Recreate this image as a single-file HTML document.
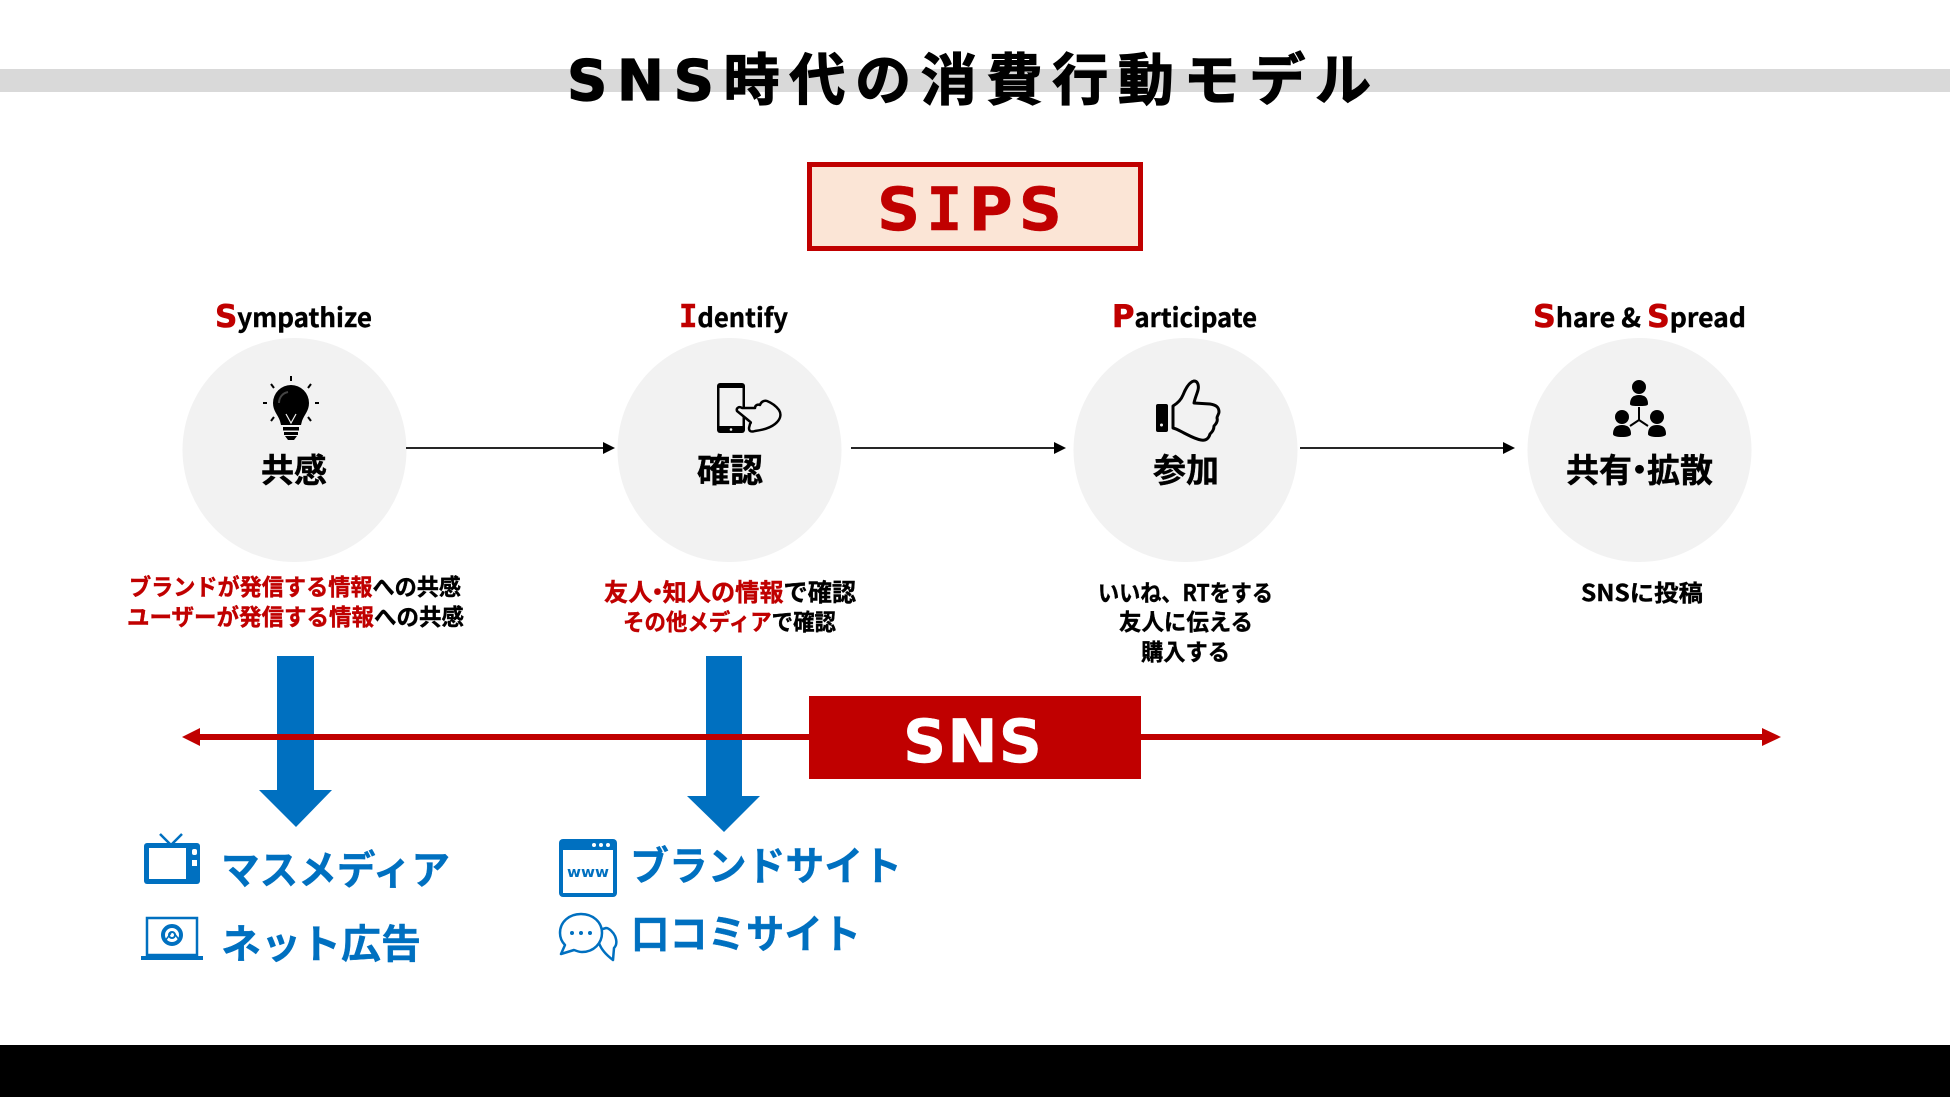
<!DOCTYPE html>
<html lang="ja"><head><meta charset="utf-8"><title>SNS時代の消費行動モデル</title>
<style>
html,body{margin:0;padding:0;background:#fff;width:1950px;height:1097px;overflow:hidden}
svg{display:block}
text{font-family:"Liberation Sans","Noto Sans CJK JP",sans-serif;font-weight:700;fill:#000;stroke:#000;stroke-width:.4px}
.cjk{font-family:"Noto Sans CJK JP",sans-serif;font-weight:700}
.dj{font-family:"DejaVu Sans","Noto Sans CJK JP",sans-serif;font-weight:700}
.r{fill:#c00000}
.b{fill:#0070c0}
text.r,text .r{fill:#c00000;stroke:#c00000}
text.b{fill:#0070c0;stroke:#0070c0}
text.w{fill:#fff;stroke:#fff}
.cap{font-family:"DejaVu Sans",sans-serif;font-size:31px;stroke-width:.6px}
.capi{font-family:"DejaVu Sans Mono",monospace;font-size:31px;stroke-width:.6px}
</style></head><body>
<svg width="1950" height="1097" viewBox="0 0 1950 1097" xmlns="http://www.w3.org/2000/svg">
<rect width="1950" height="1097" fill="#fff"/>
<rect x="0" y="69" width="1950" height="23" fill="#d9d9d9"/>
<text class="dj" x="567" y="100" font-size="56" textLength="804" lengthAdjust="spacing" style="stroke-width:1.200px">SNS時代の消費行動モデル</text>

<rect x="809.500" y="164.500" width="331" height="84" fill="#fbe5d6" stroke="#c00000" stroke-width="5"/>
<text class="dj r" x="877" y="230" font-size="60" textLength="185" lengthAdjust="spacing">S<tspan font-family="DejaVu Sans Mono">I</tspan>PS</text>

<g fill="#f2f2f2">
<circle cx="294.500" cy="450" r="112"/><circle cx="729.500" cy="450" r="112"/><circle cx="1185.500" cy="450" r="112"/><circle cx="1639.500" cy="450" r="112"/>
</g>

<!-- heading labels -->
<text class="cjk" x="215" y="327" font-size="26" textLength="157" lengthAdjust="spacingAndGlyphs"><tspan class="r cap">S</tspan>ympathize</text>
<text class="cjk" x="679" y="327" font-size="26" textLength="109" lengthAdjust="spacingAndGlyphs"><tspan class="r capi">I</tspan>dentify</text>
<text class="cjk" x="1112" y="327" font-size="26" textLength="145" lengthAdjust="spacingAndGlyphs"><tspan class="r cap">P</tspan>articipate</text>
<text class="cjk" x="1533" y="327" font-size="26" textLength="213" lengthAdjust="spacingAndGlyphs"><tspan class="r cap">S</tspan>hare &amp; <tspan class="r cap">S</tspan>pread</text>

<!-- circle titles -->
<text class="cjk" x="261" y="482" font-size="33" textLength="66" lengthAdjust="spacingAndGlyphs">共感</text>
<text class="cjk" x="697" y="482" font-size="33" textLength="66" lengthAdjust="spacingAndGlyphs">確認</text>
<text class="cjk" x="1153" y="482" font-size="33" textLength="66" lengthAdjust="spacingAndGlyphs">参加</text>
<text class="cjk" x="1566" y="482" font-size="33">共有<tspan dx="-9">・</tspan><tspan dx="-9">拡散</tspan></text>

<!-- descriptions -->
<text class="cjk" x="129" y="595" font-size="23" textLength="332" lengthAdjust="spacingAndGlyphs"><tspan class="r">ブランドが発信する情報</tspan>への共感</text>
<text class="cjk" x="127" y="625" font-size="23" textLength="337" lengthAdjust="spacingAndGlyphs"><tspan class="r">ユーザーが発信する情報</tspan>への共感</text>
<text class="cjk" x="604" y="601" font-size="24.200"><tspan class="r">友人<tspan dx="-7">・</tspan><tspan dx="-7">知人の情報</tspan></tspan>で確認</text>
<text class="cjk" x="623" y="630" font-size="23" textLength="213" lengthAdjust="spacingAndGlyphs"><tspan class="r">その他メディア</tspan>で確認</text>
<text class="cjk" x="1098" y="601" font-size="23" textLength="175" lengthAdjust="spacingAndGlyphs">いいね、RTをする</text>
<text class="cjk" x="1119" y="630" font-size="23" textLength="134" lengthAdjust="spacingAndGlyphs">友人に伝える</text>
<text class="cjk" x="1141" y="660" font-size="23" textLength="89" lengthAdjust="spacingAndGlyphs">購入する</text>
<text class="cjk" x="1581" y="601" font-size="23" textLength="122" lengthAdjust="spacingAndGlyphs">SNSに投稿</text>

<!-- connectors -->
<g stroke="#262626" stroke-width="2" fill="none">
<line x1="406" y1="448" x2="606" y2="448"/><line x1="851" y1="448" x2="1057" y2="448"/><line x1="1300" y1="448" x2="1506" y2="448"/>
</g>
<g fill="#000">
<polygon points="603,442 615,448 603,454"/><polygon points="1054,442 1066,448 1054,454"/><polygon points="1503,442 1515,448 1503,454"/>
</g>

<!-- blue arrows -->
<polygon class="b" points="277,656 314,656 314,790 332,790 296,827 259,790 277,790"/>
<polygon class="b" points="706,656 742,656 742,796 760,796 724,832 687,796 706,796"/>

<!-- red line -->
<rect x="198" y="734" width="612" height="6" class="r"/>
<rect x="1140" y="734" width="624" height="6" class="r"/>
<polygon class="r" points="182,737 200,728 200,746"/>
<polygon class="r" points="1781,737 1762,728 1762,746"/>
<rect x="809" y="696" width="332" height="83" class="r"/>
<text class="dj w" x="903" y="762" font-size="60" textLength="139" lengthAdjust="spacing">SNS</text>

<!-- blue labels -->
<text class="cjk b" x="221" y="884" font-size="40" textLength="229" lengthAdjust="spacingAndGlyphs">マスメディア</text>
<text class="cjk b" x="221" y="958" font-size="40" textLength="200" lengthAdjust="spacingAndGlyphs">ネット広告</text>
<text class="cjk b" x="630" y="880" font-size="40" textLength="272" lengthAdjust="spacingAndGlyphs">ブランドサイト</text>
<text class="cjk b" x="631" y="948" font-size="40" textLength="230" lengthAdjust="spacingAndGlyphs">口コミサイト</text>

<!-- bulb icon -->
<g>
<path d="M273,403a18,18 0 1 1 36,0c0,8 -5,12 -7,18l-1,4h-20l-1,-4c-2,-6 -7,-10 -7,-18z" fill="#000"/>
<rect x="283" y="427" width="16" height="3.500" fill="#000"/><rect x="284" y="432" width="14" height="3" fill="#000"/>
<path d="M285,436h12l-3,4h-6z" fill="#000"/>
<path d="M286,414l5,9l5,-9" stroke="#f2f2f2" stroke-width="1.200" fill="none"/>
<path d="M279,403c0,-6 4,-10 9,-11" stroke="#444" stroke-width="2" fill="none"/>
<g stroke="#000" stroke-width="2" fill="none">
<line x1="291" y1="376" x2="291" y2="381"/><line x1="271" y1="384" x2="274" y2="388"/><line x1="311" y1="384" x2="308" y2="388"/>
<line x1="263" y1="403" x2="267" y2="403"/><line x1="315" y1="403" x2="319" y2="403"/><line x1="271" y1="421" x2="274" y2="417"/><line x1="311" y1="421" x2="308" y2="417"/>
</g>
</g>

<!-- phone + hand icon -->
<g>
<rect x="717" y="383" width="28" height="50" rx="3" fill="#000"/>
<rect x="719.500" y="388" width="23" height="38" fill="#f2f2f2"/>
<circle cx="731" cy="429.500" r="1.300" fill="#f2f2f2"/>
<path d="M742,408c-3,-2 -6,0 -5,3l11,9c2,2 4,2 2,4l-1,4c0,4 3,4 6,3c8,-1 15,-3 20,-7c5,-4 7,-9 4,-14c-3,-4 -7,-7 -12,-9c-3,-1 -6,1 -7,4c-2,-1 -5,0 -5,3z" fill="#f2f2f2" stroke="#000" stroke-width="2.500" stroke-linejoin="round"/>
</g>

<!-- thumbs-up icon -->
<g>
<rect x="1156" y="404" width="12" height="28" rx="2" fill="#000"/>
<circle cx="1161.500" cy="425" r="1.500" fill="#f2f2f2"/>
<path d="M1173,406c5,-3 8,-6 10,-11c2,-5 6,-13 11,-14c4,0 5,5 4,9c-1,4 -3,8 -4,13l16,1c6,1 9,3 9,8c0,2 -2,4 -2,6c1,3 -1,6 -3,8c0,4 -2,6 -4,8c-1,4 -4,7 -9,6c-6,-1 -11,-4 -17,-7c-4,-2 -7,-4 -11,-5z" fill="none" stroke="#000" stroke-width="3" stroke-linejoin="round"/>
</g>

<!-- network icon -->
<g fill="#000">
<circle cx="1639" cy="387" r="7"/><path d="M1630,404c0,-6 3,-9 9,-9s9,3 9,9c0,2 -4,2 -9,2s-9,0 -9,-2z"/>
<circle cx="1622" cy="417" r="7"/><path d="M1613,434c0,-6 3,-9 9,-9s9,3 9,9c0,2 -4,3 -9,3s-9,-1 -9,-3z"/>
<circle cx="1657" cy="417" r="7"/><path d="M1648,434c0,-6 3,-9 9,-9s9,3 9,9c0,2 -4,3 -9,3s-9,-1 -9,-3z"/>
<path d="M1639,407v13M1639,420l-9,6M1639,420l9,6" stroke="#000" stroke-width="2" fill="none"/>
</g>

<!-- TV icon -->
<g fill="#0070c0">
<rect x="144" y="843" width="56" height="41" rx="3"/>
<rect x="149" y="848" width="37" height="31" fill="#fff"/>
<rect x="192" y="849" width="5" height="6" rx="2" fill="#fff"/><rect x="192" y="860" width="5" height="6" fill="#fff"/>
<path d="M160,834l11,11l11,-11" stroke="#0070c0" stroke-width="2.500" fill="none"/>
</g>

<!-- laptop icon -->
<g>
<rect x="147" y="918" width="50" height="37" fill="#fff" stroke="#0070c0" stroke-width="2.500"/>
<rect x="141" y="956" width="62" height="4" fill="#0070c0"/>
<circle cx="172" cy="935" r="9" fill="none" stroke="#0070c0" stroke-width="4"/>
<circle cx="172" cy="935" r="3" fill="none" stroke="#0070c0" stroke-width="2"/>
<path d="M172,926l9,5M165,941l6,-8M180,941l-6,-8" stroke="#0070c0" stroke-width="1.500" fill="none"/>
</g>

<!-- browser icon -->
<g>
<rect x="559" y="839" width="58" height="58" rx="4" fill="#0070c0"/>
<rect x="563" y="850" width="50" height="43" fill="#fff"/>
<circle cx="594" cy="845" r="2" fill="#fff"/><circle cx="601" cy="845" r="2" fill="#fff"/><circle cx="608" cy="845" r="2" fill="#fff"/>
<text class="dj b" x="567" y="877" font-size="14" textLength="42" lengthAdjust="spacingAndGlyphs" style="stroke-width:0">www</text>
</g>

<!-- chat icon -->
<g fill="#fff" stroke="#0070c0" stroke-width="2.500" stroke-linejoin="round">
<path d="M583,935c6,5 11,8 16,8c2,6 6,11 14,17l1,-12c3,-3 3,-7 1,-12c-2,-4 -6,-8 -9,-8z"/>
<path d="M581,914c-12,0 -21,8 -21,19c0,5 2,9 5,12l-4,9l13,-4c3,1 5,2 8,2c12,0 20,-9 20,-19c0,-11 -9,-19 -21,-19z"/>
</g>
<g fill="#0070c0"><circle cx="572" cy="933" r="2"/><circle cx="581" cy="933" r="2"/><circle cx="590" cy="933" r="2"/></g>

<!-- bottom band -->
<rect x="0" y="1045" width="1950" height="52" fill="#000"/>
</svg>
</body></html>
